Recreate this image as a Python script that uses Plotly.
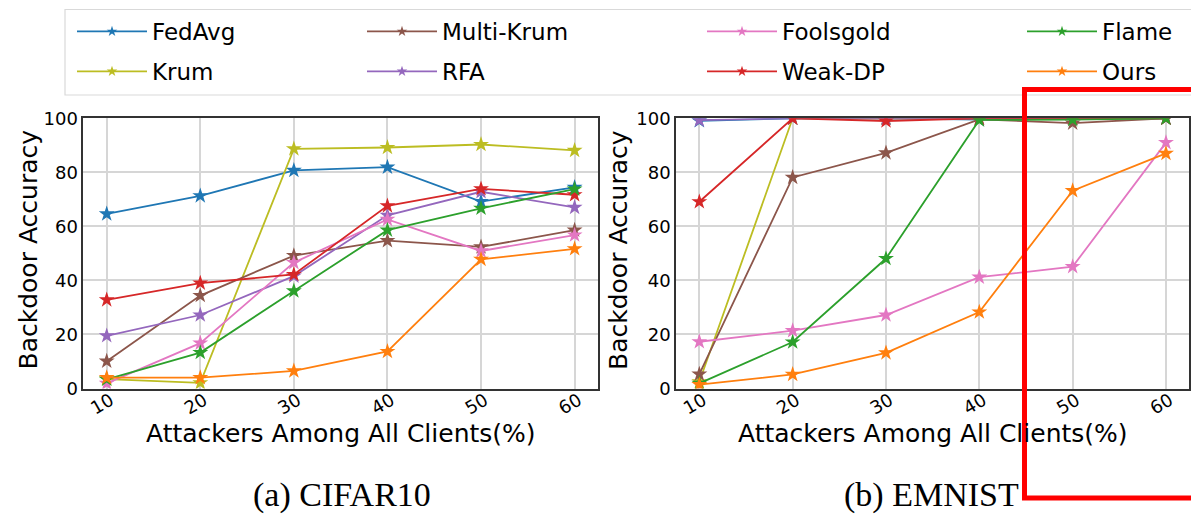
import plotly.graph_objects as go

W, H = 1191, 515

attackers = [10, 20, 30, 40, 50, 60]
x_ticks = [10, 20, 30, 40, 50, 60]
y_ticks = [0, 20, 40, 60, 80, 100]

methods = ["FedAvg", "Krum", "Multi-Krum", "RFA", "Foolsgold", "Weak-DP", "Flame", "Ours"]
colors = {
    "FedAvg": "#1f77b4", "Krum": "#bcbd22", "Multi-Krum": "#8c564b", "RFA": "#9467bd",
    "Foolsgold": "#e377c2", "Weak-DP": "#d62728", "Flame": "#2ca02c", "Ours": "#ff7f0e",
}

# CIFAR10 backdoor accuracy
cifar_fedavg = [64.6, 71.3, 80.7, 81.9, 69.2, 74.4]
cifar_krum = [3.5, 2.1, 88.7, 89.2, 90.3, 88.1]
cifar_multikrum = [10.1, 34.4, 49.2, 54.7, 52.4, 58.6]
cifar_rfa = [19.5, 27.2, 41.6, 64.1, 72.8, 67.0]
cifar_foolsgold = [1.9, 16.8, 46.6, 62.6, 50.9, 56.8]
cifar_weakdp = [32.8, 39.0, 42.2, 67.6, 73.9, 71.7]
cifar_flame = [3.4, 13.3, 36.1, 58.6, 66.7, 73.8]
cifar_ours = [4.0, 4.0, 6.5, 13.7, 47.8, 51.7]

# EMNIST backdoor accuracy
emnist_fedavg = [99.1, 100, 100, 99.5, 100, 100]
emnist_krum = [2.5, 100, 100, 100, 100, 100]
emnist_multikrum = [5.3, 78.1, 87.2, 99.6, 98.2, 100]
emnist_rfa = [99.3, 100, 100, 100, 100, 100]
emnist_foolsgold = [17.3, 21.4, 27.2, 41.2, 45.1, 91.0]
emnist_weakdp = [69.1, 100, 99.0, 100, 100, 100]
emnist_flame = [1.9, 17.2, 48.1, 99.4, 99.5, 100]
emnist_ours = [1.4, 5.2, 13.2, 28.3, 73.2, 87.0]

cifar = {"FedAvg": cifar_fedavg, "Krum": cifar_krum, "Multi-Krum": cifar_multikrum,
         "RFA": cifar_rfa, "Foolsgold": cifar_foolsgold, "Weak-DP": cifar_weakdp,
         "Flame": cifar_flame, "Ours": cifar_ours}
emnist = {"FedAvg": emnist_fedavg, "Krum": emnist_krum, "Multi-Krum": emnist_multikrum,
          "RFA": emnist_rfa, "Foolsgold": emnist_foolsgold, "Weak-DP": emnist_weakdp,
          "Flame": emnist_flame, "Ours": emnist_ours}

# legend layout: columns of (top, bottom)
legend_columns = [["FedAvg", "Krum"], ["Multi-Krum", "RFA"], ["Foolsgold", "Weak-DP"], ["Flame", "Ours"]]
legend_text_x = [152, 442, 782, 1102]

FONT = "DejaVu Sans"

def px(x):
    return x / W

def py(y):
    return 1 - y / H

fig = go.Figure()

for m in methods:
    for data, xa, ya in [(cifar, "x", "y"), (emnist, "x2", "y2")]:
        fig.add_trace(go.Scatter(
            x=attackers, y=data[m], mode="lines+markers", name=m,
            line=dict(color=colors[m], width=1.8),
            marker=dict(symbol="star", size=12, color=colors[m]),
            xaxis=xa, yaxis=ya, showlegend=False, legendgroup=m,
        ))

legend_names = ["legend", "legend2", "legend3", "legend4"]
for ci, col in enumerate(legend_columns):
    for m in col:
        fig.add_trace(go.Scatter(
            x=[None], y=[None], mode="lines+markers", name=m,
            line=dict(color=colors[m], width=1.8),
            marker=dict(symbol="star", size=8, color=colors[m]),
            legend=legend_names[ci], legendgroup=m, showlegend=True,
        ))

axis_common = dict(
    showline=True, mirror=True, linecolor="#333333", linewidth=1.5,
    showgrid=True, gridcolor="#d6d6d6", gridwidth=1.5,
    ticks="", zeroline=False, automargin=False,
    tickfont=dict(family=FONT, size=18, color="black"),
)

layout = dict(
    width=W, height=H,
    margin=dict(l=0, r=0, t=0, b=0),
    paper_bgcolor="white", plot_bgcolor="white",
    xaxis=dict(domain=[px(83.3), px(598)], range=[7.5, 62.5], tickvals=x_ticks,
               tickangle=-30, anchor="y", ticklabelshift=4, ticklabelstandoff=-7,
               **axis_common),
    yaxis=dict(domain=[py(388.5), py(118.3)], range=[0, 100], tickvals=y_ticks,
               anchor="x", **axis_common),
    xaxis2=dict(domain=[px(676), px(1189.3)], range=[7.5, 62.5], tickvals=x_ticks,
                tickangle=-30, anchor="y2", ticklabelshift=4, ticklabelstandoff=-7,
                **axis_common),
    yaxis2=dict(domain=[py(388.5), py(118.3)], range=[0, 100], tickvals=y_ticks,
                anchor="x2", **axis_common),
)

for ci, ln in enumerate(legend_names):
    layout[ln] = dict(
        x=px(legend_text_x[ci] - 80), y=py(10), xanchor="left", yanchor="top",
        orientation="v", bgcolor="rgba(0,0,0,0)", borderwidth=0,
        font=dict(family=FONT, size=23, color="black"),
        itemwidth=70, tracegroupgap=7,
    )

fig.update_layout(**layout)

annotations = [
    dict(text="Backdoor Accuracy", x=px(27.5), y=py(250), textangle=-90,
         font=dict(family=FONT, size=25, color="black")),
    dict(text="Backdoor Accuracy", x=px(618), y=py(250), textangle=-90,
         font=dict(family=FONT, size=25, color="black")),
    dict(text="Attackers Among All Clients(%)", x=px(341), y=py(433),
         font=dict(family=FONT, size=25, color="black")),
    dict(text="Attackers Among All Clients(%)", x=px(933), y=py(433),
         font=dict(family=FONT, size=25, color="black")),
    dict(text="(a) CIFAR10", x=px(342), y=py(495),
         font=dict(family="Liberation Serif", size=34, color="black")),
    dict(text="(b) EMNIST", x=px(931), y=py(495),
         font=dict(family="Liberation Serif", size=34, color="black")),
]
for a in annotations:
    a.update(xref="paper", yref="paper", showarrow=False, xanchor="center", yanchor="middle")
fig.update_layout(annotations=annotations)

fig.add_shape(type="rect", xref="paper", yref="paper",
              x0=px(65), x1=px(1210), y0=py(9.5), y1=py(95),
              line=dict(color="#d9d9d9", width=1.2), fillcolor="rgba(0,0,0,0)", layer="below")
fig.add_shape(type="rect", xref="paper", yref="paper",
              x0=px(1024.5), x1=px(1210), y0=py(89.5), y1=py(498),
              line=dict(color="#ff0000", width=5), fillcolor="rgba(0,0,0,0)", layer="above")

fig.write_html("out.html")
